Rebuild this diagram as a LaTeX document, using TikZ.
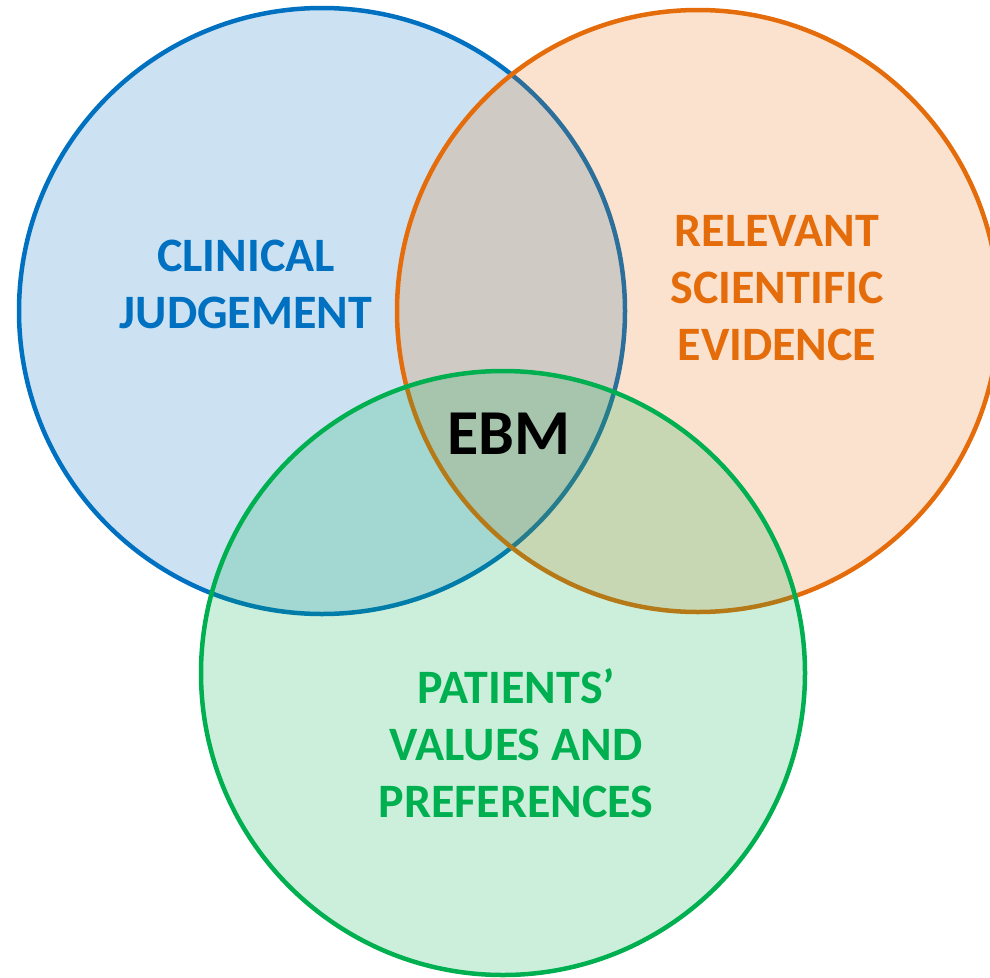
\documentclass[tikz,border=0pt]{standalone}
\usepackage{fontspec}
\setmainfont{Carlito}
\definecolor{cblue}{HTML}{0070C0}
\definecolor{corange}{HTML}{E46C0A}
\definecolor{cgreen}{HTML}{00B050}
\tikzset{
  venn/.style={circle, minimum size=#1, inner sep=0pt, line width=4.5pt, fill opacity=0.2, draw opacity=1},
  lbl/.style={align=center, font=\fontsize{48}{57}\selectfont\bfseries, text opacity=1}
}
\begin{document}
\begin{tikzpicture}[x=1pt,y=-1pt]
\useasboundingbox (0,0) rectangle (990,977);
\clip (0,0) rectangle (990,977);
\node[venn=606pt, draw=cblue, fill=cblue] (blue) at (322,311) {};
\node[venn=602pt, draw=corange, fill=corange] (orange) at (698,311) {};
\node[venn=604pt, draw=cgreen, fill=cgreen] (green) at (503,673) {};
\node[lbl, text=cblue] (cj) at (246,284) {CLINICAL\\JUDGEMENT};
\node[lbl, text=corange] (rse) at (777,288) {RELEVANT\\SCIENTIFIC\\EVIDENCE};
\node[lbl, text=cgreen] (pvp) at (516,743) {PATIENTS’\\VALUES AND\\PREFERENCES};
\node[font=\fontsize{64}{70}\selectfont\bfseries, text=black] (ebm) at (509,434) {EBM};
\end{tikzpicture}
\end{document}
